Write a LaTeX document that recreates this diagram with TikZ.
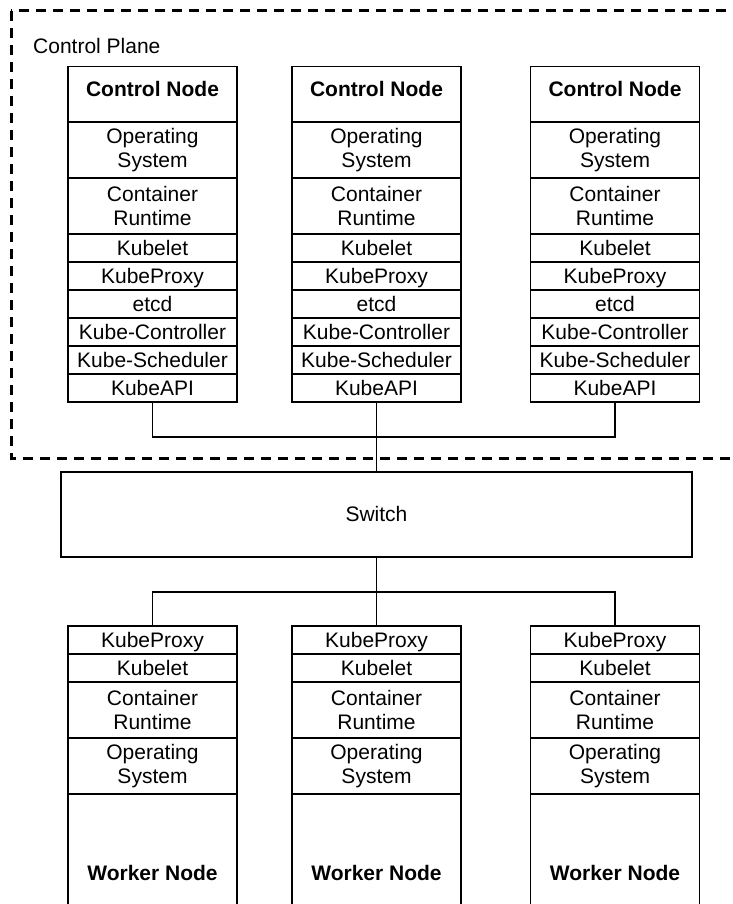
\documentclass[tikz,border=0pt]{standalone}
\usepackage{fontspec}
\setmainfont{Liberation Sans}
% Stack of a control node: header on top, one row per component below
\newcommand\ctrlstack[2]{%
  \node[head] (#1h) at (#2,66) {Control Node};
  \node[double] (#1os) at (#2,150) {Operating\\System};
  \node[double] (#1cr) at (#2,206) {Container\\Runtime};
  \node[single] (#1kl) at (#2,248) {Kubelet};
  \node[single] (#1kp) at (#2,276) {KubeProxy};
  \node[single] (#1et) at (#2,304) {etcd};
  \node[single] (#1kc) at (#2,332) {Kube-Controller};
  \node[single] (#1ks) at (#2,360) {Kube-Scheduler};
  \node[single] (#1api) at (#2,388) {KubeAPI};
}
% Stack of a worker node: components on top, node title at the foot
\newcommand\workstack[2]{%
  \node[single] (#1kp) at (#2,640) {KubeProxy};
  \node[single] (#1kl) at (#2,668) {Kubelet};
  \node[double] (#1cr) at (#2,710) {Container\\Runtime};
  \node[double] (#1os) at (#2,766) {Operating\\System};
  \node[foot] (#1wn) at (#2,794) {Worker Node};
}
\begin{document}
\begin{tikzpicture}[x=1pt,y=-1pt,
  base/.style={font=\fontsize{21}{24.5}\selectfont},
  layer/.style={draw, line width=1.4pt, minimum width=169pt, inner sep=0pt,
    align=center, base},
  single/.style={layer, minimum height=28pt, text height=15pt, text depth=1pt},
  double/.style={layer, minimum height=56pt},
  head/.style={layer, font=\fontsize{21}{24.5}\selectfont\bfseries,
    text height=29.5pt, text depth=26.5pt, anchor=north},
  foot/.style={layer, font=\fontsize{21}{24.5}\selectfont\bfseries,
    text height=86pt, text depth=40pt, anchor=north},
  switchbox/.style={draw, line width=1.4pt, minimum width=631pt,
    minimum height=85pt, inner sep=0pt, base, text height=15pt, text depth=1pt},
  wire/.style={draw, line width=1.4pt},
  plane/.style={draw, line width=3pt, dash pattern=on 10pt off 7pt}
]
\fill[white] (0,0) rectangle (732,904);
\clip (0,0) rectangle (732,904);

% control plane frame, open towards the right edge
\draw[plane] (11,11) rectangle (780,458);
\node[base, anchor=west, inner sep=0pt] (cplabel) at (33,46) {Control Plane};

\ctrlstack{a1}{152.5}
\ctrlstack{a2}{376.5}
\ctrlstack{a3}{615}

\node[switchbox] (sw) at (376.5,514.5) {Switch};

\workstack{w1}{152.5}
\workstack{w2}{376.5}
\workstack{w3}{615}

% uplinks from the API servers to the switch
\coordinate (upbar) at (376.5,437);
\draw[wire] (a1api.south) |- (upbar);
\draw[wire] (a3api.south) |- (upbar);
\draw[wire] (a2api.south) -- (sw.north);

% downlinks from the switch to the workers
\coordinate (lowbar) at (376.5,592);
\draw[wire] (sw.south) -- (lowbar);
\draw[wire] (lowbar) -| (w1kp.north);
\draw[wire] (lowbar) -| (w3kp.north);
\draw[wire] (lowbar) -- (w2kp.north);
\end{tikzpicture}
\end{document}
